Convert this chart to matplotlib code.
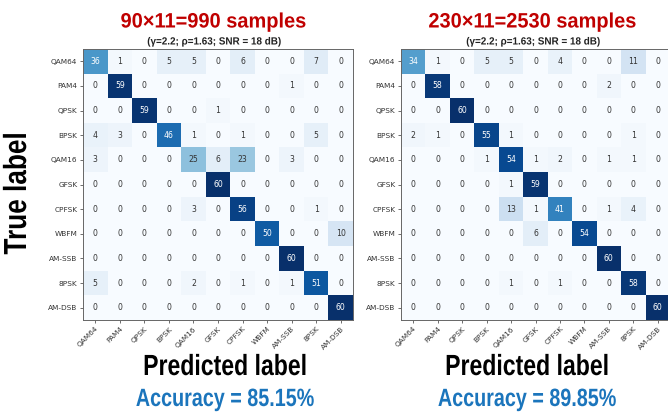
import numpy as np
import matplotlib
matplotlib.use("Agg")
import matplotlib.pyplot as plt
from matplotlib import patheffects
from matplotlib.transforms import Affine2D

classes = ["QAM64", "PAM4", "QPSK", "BPSK", "QAM16", "GFSK",
           "CPFSK", "WBFM", "AM-SSB", "8PSK", "AM-DSB"]

cm_small = [
    [36, 1, 0, 5, 5, 0, 6, 0, 0, 7, 0],
    [0, 59, 0, 0, 0, 0, 0, 0, 1, 0, 0],
    [0, 0, 59, 0, 0, 1, 0, 0, 0, 0, 0],
    [4, 3, 0, 46, 1, 0, 1, 0, 0, 5, 0],
    [3, 0, 0, 0, 25, 6, 23, 0, 3, 0, 0],
    [0, 0, 0, 0, 0, 60, 0, 0, 0, 0, 0],
    [0, 0, 0, 0, 3, 0, 56, 0, 0, 1, 0],
    [0, 0, 0, 0, 0, 0, 0, 50, 0, 0, 10],
    [0, 0, 0, 0, 0, 0, 0, 0, 60, 0, 0],
    [5, 0, 0, 0, 2, 0, 1, 0, 1, 51, 0],
    [0, 0, 0, 0, 0, 0, 0, 0, 0, 0, 60],
]

cm_large = [
    [34, 1, 0, 5, 5, 0, 4, 0, 0, 11, 0],
    [0, 58, 0, 0, 0, 0, 0, 0, 2, 0, 0],
    [0, 0, 60, 0, 0, 0, 0, 0, 0, 0, 0],
    [2, 1, 0, 55, 1, 0, 0, 0, 0, 1, 0],
    [0, 0, 0, 1, 54, 1, 2, 0, 1, 1, 0],
    [0, 0, 0, 0, 1, 59, 0, 0, 0, 0, 0],
    [0, 0, 0, 0, 13, 1, 41, 0, 1, 4, 0],
    [0, 0, 0, 0, 0, 6, 0, 54, 0, 0, 0],
    [0, 0, 0, 0, 0, 0, 0, 0, 60, 0, 0],
    [0, 0, 0, 0, 1, 0, 1, 0, 0, 58, 0],
    [0, 0, 0, 0, 0, 0, 0, 0, 0, 0, 60],
]

titles = ["90\u00d711=990 samples", "230\u00d711=2530 samples"]
subtitle = "(\u03b3=2.2; \u03c1=1.63; SNR = 18 dB)"
accuracies = ["Accuracy = 85.15%", "Accuracy = 89.85%"]

W, H = 668, 413
fig = plt.figure(figsize=(W / 100, H / 100), dpi=100)
fig.patch.set_facecolor("white")

sans = ["Liberation Sans", "DejaVu Sans"]


class Condense(patheffects.AbstractPathEffect):
    """Narrow the glyphs horizontally about the centre of the text."""

    def __init__(self, sx=0.82):
        super().__init__()
        self.sx = sx

    def draw_path(self, renderer, gc, tpath, affine, rgbFace=None):
        ext = tpath.get_extents()
        cx = 0.5 * (ext.x0 + ext.x1)
        squeeze = Affine2D().translate(-cx, 0).scale(self.sx, 1).translate(cx, 0)
        renderer.draw_path(gc, tpath, squeeze + affine, rgbFace)


def fx(px):
    return px / W


def fy(py):
    return 1 - py / H


def label(x, y, s, size, color, sx, **kw):
    fig.text(fx(x), fy(y), s, ha="center", va="center", fontsize=size,
             fontweight="bold", color=color, family=sans,
             path_effects=[Condense(sx)], **kw)


def draw_cm(ax, cm):
    cm = np.array(cm)
    ax.imshow(cm, cmap="Blues", vmin=0, vmax=cm.max(), aspect="auto",
              interpolation="nearest")
    thresh = cm.max() / 2.0
    for i in range(cm.shape[0]):
        for j in range(cm.shape[1]):
            ax.text(j, i, str(cm[i, j]), ha="center", va="center",
                    fontsize=5.6,
                    color="white" if cm[i, j] > thresh else "#333333")
    ticks = np.arange(len(classes))
    ax.set_xticks(ticks)
    ax.set_yticks(ticks)
    ax.set_xticklabels(classes, rotation=45, ha="right",
                       rotation_mode="anchor", fontsize=5.3, color="#333333")
    ax.set_yticklabels(classes, fontsize=5.3, color="#333333")
    ax.tick_params(length=2.5, width=0.6, color="#555555", pad=1.5)
    for s in ax.spines.values():
        s.set_color("#666666")
        s.set_linewidth(0.7)


# matrix boxes in pixels: left, top, right, bottom
panels = [(83, 49, 353, 320), (401, 49, 670, 320)]
title_x = [214, 533]
xlabel_x = [225, 527]

for k, cm in enumerate([cm_small, cm_large]):
    l, t, r, b = panels[k]
    ax = fig.add_axes([fx(l), fy(b), fx(r - l), (b - t) / H])
    draw_cm(ax, cm)
    label(title_x[k], 22, titles[k], 15, "#c00000", 0.96)
    label(title_x[k], 41.5, subtitle, 7.5, "#222222", 0.95)
    label(xlabel_x[k], 367, "Predicted label", 21, "black", 0.79)
    label(xlabel_x[k], 399, accuracies[k], 18, "#1b75bc", 0.79)

label(18, 193, "True label", 23, "black", 0.82, rotation=90)

fig.savefig("out.png", dpi=100)
